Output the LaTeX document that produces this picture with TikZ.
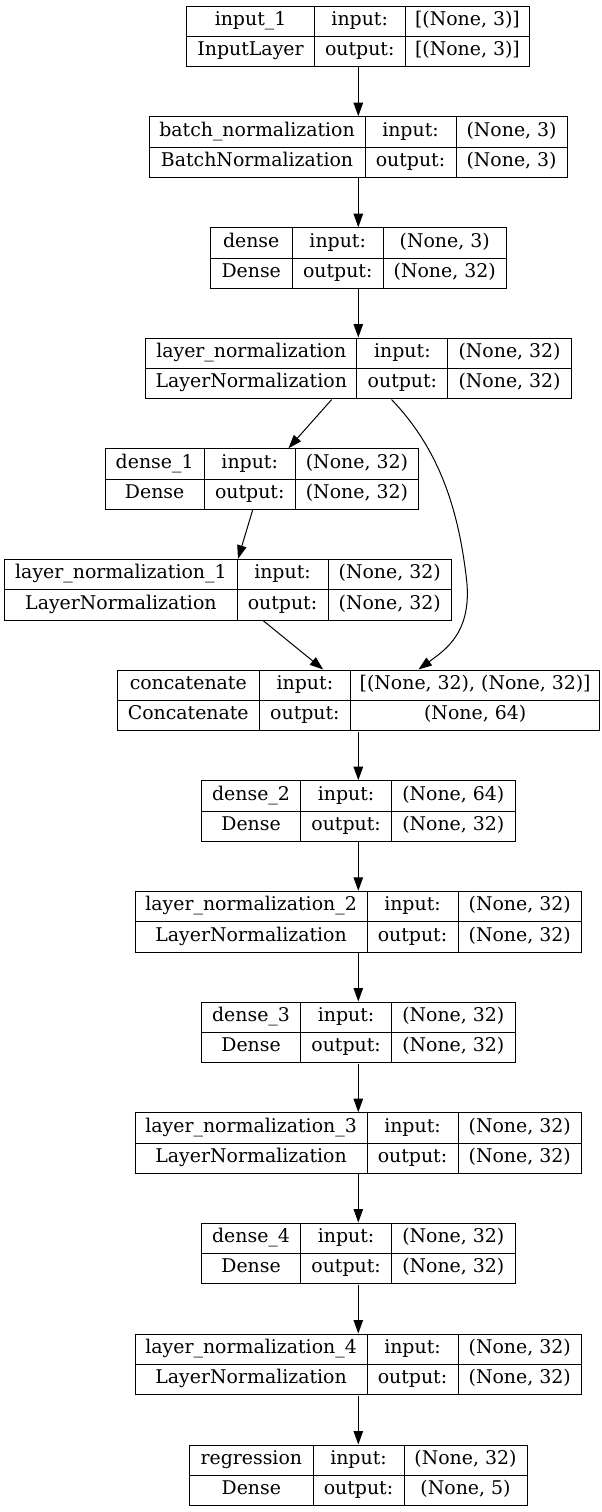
\documentclass[tikz,border=0pt]{standalone}
\usepackage{fontspec,array}
\setmainfont{DejaVu Serif}
\usetikzlibrary{arrows.meta}

\setlength{\tabcolsep}{0pt}
\setlength{\arrayrulewidth}{1pt}
\newcommand{\rs}{\rule[-10.4pt]{0pt}{29.3pt}}
% one layer: width of name column, width of shape column, name, class, input, output
\newcommand{\lyr}[6]{%
  \begin{tabular}{|wc{#1}|wc{90pt}|wc{#2}|}\hline
    \rs#3 & input: & #5\\\hline
    \rs#4 & output: & #6\\\hline
  \end{tabular}}

\begin{document}
\begin{tikzpicture}[x=1pt,y=-1pt,
    lyrbox/.style={anchor=north west,inner sep=0pt,font=\fontsize{18.9}{22}\selectfont},
    arr/.style={line width=1pt,-{Triangle[length=13.5pt,width=9.5pt]}}]
			\useasboundingbox (0,0) rectangle (602,1512);
			\coordinate (ax) at (358.3,0);
			\node[lyrbox] (inp) at (186.2,5.5) {\lyr{126.3pt}{123.5pt}{input\_1}{InputLayer}{[(None, 3)]}{[(None, 3)]}};
			\node[lyrbox] (bn) at (148.4,116.2) {\lyr{214.9pt}{110.2pt}{batch\_normalization}{BatchNormalization}{(None, 3)}{(None, 3)}};
			\node[lyrbox] (dn) at (209.5,227.2) {\lyr{81pt}{122pt}{dense}{Dense}{(None, 3)}{(None, 32)}};
			\node[lyrbox] (ln) at (144.9,337.5) {\lyr{210.3pt}{122.4pt}{layer\_normalization}{LayerNormalization}{(None, 32)}{(None, 32)}};
			\node[lyrbox] (dn1) at (104.4,448.2) {\lyr{98.1pt}{122.4pt}{dense\_1}{Dense}{(None, 32)}{(None, 32)}};
			\node[lyrbox] (ln1) at (4.1,558.8) {\lyr{231.2pt}{122.4pt}{layer\_normalization\_1}{LayerNormalization}{(None, 32)}{(None, 32)}};
			\node[lyrbox] (cat) at (116.4,669.5) {\lyr{141.3pt}{248.5pt}{concatenate}{Concatenate}{[(None, 32), (None, 32)]}{(None, 64)}};
			\node[lyrbox] (dn2) at (200.8,780.2) {\lyr{98.1pt}{122.4pt}{dense\_2}{Dense}{(None, 64)}{(None, 32)}};
			\node[lyrbox] (ln2) at (134.5,890.8) {\lyr{230.8pt}{122.4pt}{layer\_normalization\_2}{LayerNormalization}{(None, 32)}{(None, 32)}};
			\node[lyrbox] (dn3) at (200.8,1001.5) {\lyr{98.1pt}{122.4pt}{dense\_3}{Dense}{(None, 32)}{(None, 32)}};
			\node[lyrbox] (ln3) at (134.5,1112.2) {\lyr{230.8pt}{122.4pt}{layer\_normalization\_3}{LayerNormalization}{(None, 32)}{(None, 32)}};
			\node[lyrbox] (dn4) at (200.8,1222.5) {\lyr{98.1pt}{122.4pt}{dense\_4}{Dense}{(None, 32)}{(None, 32)}};
			\node[lyrbox] (ln4) at (134.5,1333.5) {\lyr{230.8pt}{122.4pt}{layer\_normalization\_4}{LayerNormalization}{(None, 32)}{(None, 32)}};
			\node[lyrbox] (reg) at (188.9,1444.5) {\lyr{122.4pt}{122pt}{regression}{Dense}{(None, 32)}{(None, 5)}};
			% straight chain
			\draw[arr] (inp.south -| ax) -- (bn.north -| ax);
			\draw[arr] (bn.south -| ax) -- (dn.north -| ax);
			\draw[arr] (dn.south -| ax) -- (ln.north -| ax);
			\draw[arr] (cat.south -| ax) -- (dn2.north -| ax);
			\draw[arr] (dn2.south -| ax) -- (ln2.north -| ax);
			\draw[arr] (ln2.south -| ax) -- (dn3.north -| ax);
			\draw[arr] (dn3.south -| ax) -- (ln3.north -| ax);
			\draw[arr] (ln3.south -| ax) -- (dn4.north -| ax);
			\draw[arr] (dn4.south -| ax) -- (ln4.north -| ax);
			\draw[arr] (ln4.south -| ax) -- (reg.north -| ax);
			% branch and skip
			\draw[arr] (ln.south -| 331.7,0) -- (dn1.north -| 288.5,0);
			\draw[arr] (dn1.south -| 252.6,0) -- (ln1.north -| 238,0);
			\draw[arr] (ln1.south -| 263.4,0) -- (cat.north -| 323.2,0);
			\draw[arr] (ln.south -| 391.5,0) .. controls (440,450) and (458,510) .. (466,575)
				.. controls (474,632) and (445,650) .. (cat.north -| 418.4,0);
		\end{tikzpicture}
\end{document}
